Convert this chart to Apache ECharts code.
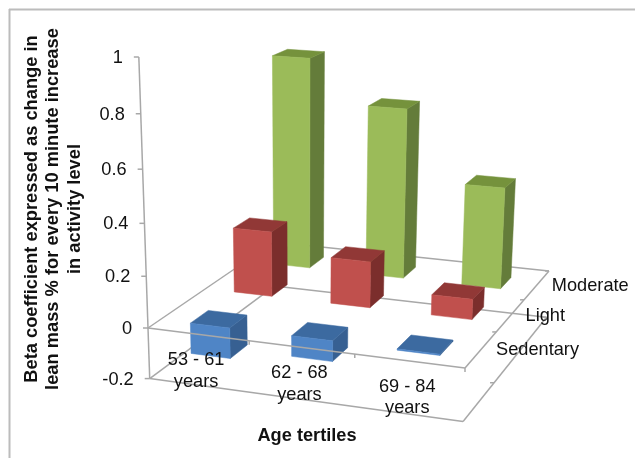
<!DOCTYPE html>
<html><head><meta charset="utf-8">
<style>html,body{margin:0;padding:0;background:#fff}#c{width:635px;height:458px}</style>
<script src="https://cdn.jsdelivr.net/npm/echarts@6/dist/echarts.min.js"></script>
</head><body><div id="c"></div>
<script>
// ---- data ----
const categories = ['53 - 61\nyears', '62 - 68\nyears', '69 - 84\nyears'];
const activityLevels = ['Sedentary', 'Light', 'Moderate'];
const sedentary = [-0.12, -0.08, -0.005];
const light = [0.26, 0.183, 0.08];
const moderate = [0.862, 0.69, 0.41];
const valueTicks = [-0.2, 0, 0.2, 0.4, 0.6, 0.8, 1];
const yAxisTitle = ['Beta coefficient expressed as change in', 'lean mass % for every 10 minute increase', 'in activity level'];
const xAxisTitle = 'Age tertiles';

// ---- camera: floor corners at value 0 and the vanishing point of the verticals ----
const CORNERS = [[148, 328], [465, 368], [549, 271], [274, 242]];
const VANISH = [302, 4880];
const TOP_LEFT_Y = 57;
const CAM = (function () {
  const [[x0, y0], [x1, y1], [x2, y2], [x3, y3]] = CORNERS;
  const dx1 = x1 - x2, dx2 = x3 - x2, sx = x0 - x1 + x2 - x3;
  const dy1 = y1 - y2, dy2 = y3 - y2, sy = y0 - y1 + y2 - y3;
  const den = dx1 * dy2 - dx2 * dy1;
  const g = (sx * dy2 - dx2 * sy) / den, h = (dx1 * sy - sx * dy1) / den;
  return {
    a: x1 - x0 + g * x1, b: x3 - x0 + h * x3, c: x0,
    d: y1 - y0 + g * y1, e: y3 - y0 + h * y3, f: y0, g, h,
    s: (TOP_LEFT_Y - y0) / (VANISH[1] - TOP_LEFT_Y)
  };
})();
function project(x, v, z) {
  const c = CAM, w = c.g * x + c.h * z + 1 + c.s * v;
  return [
    (c.a * x + c.b * z + c.c + c.s * VANISH[0] * v) / w,
    (c.d * x + c.e * z + c.f + c.s * VANISH[1] * v) / w
  ];
}

const BAR_HALF = 0.197;   // half of a bar's footprint, as a share of one cell
const DEPTH_SHIFT = 0.015;
const AXIS_MIN = -0.2, AXIS_MAX = 1;
const FONT = '"Liberation Sans", Arial, sans-serif';
const GRID_LINE = '#a8a8a8';

// Read a category position and a value through the chart's own hidden axes.
function scaled(api, cat, val) {
  const p = api.coord([cat, val]);
  const size = api.getWidth(), high = api.getHeight();
  return { x: p[0] / size, v: AXIS_MIN + (1 - p[1] / high) * (AXIS_MAX - AXIS_MIN) };
}
function vOf(api, val) { return scaled(api, 0, val).v; }

function line(a, b, color, width) {
  return { type: 'line', shape: { x1: a[0], y1: a[1], x2: b[0], y2: b[1] },
    style: { stroke: color || GRID_LINE, lineWidth: width || 1.5 }, silent: true };
}
function poly(points, fill) {
  return { type: 'polygon', shape: { points }, style: { fill, stroke: fill, lineWidth: 0.5 }, silent: true };
}

function barSeries(name, depthIndex, values, colors) {
  return {
    name, type: 'custom', coordinateSystem: 'cartesian2d', clip: false,
    data: values.map((v, i) => [i, v]),
    renderItem(params, api) {
      const p = scaled(api, api.value(0), api.value(1));
      const base = vOf(api, 0);
      const half = BAR_HALF / categories.length;
      const x0 = p.x - half, x1 = p.x + half;
      const zc = (depthIndex + 0.5) / activityLevels.length - DEPTH_SHIFT;
      const z0 = zc - half, z1 = zc + half;
      const hi = Math.max(p.v, base), lo = Math.min(p.v, base);
      return { type: 'group', children: [
        poly([project(x1, lo, z0), project(x1, lo, z1), project(x1, hi, z1), project(x1, hi, z0)], colors.side),
        poly([project(x0, hi, z0), project(x1, hi, z0), project(x1, hi, z1), project(x0, hi, z1)], colors.top),
        poly([project(x0, lo, z0), project(x1, lo, z0), project(x1, hi, z0), project(x0, hi, z0)], colors.front)
      ] };
    }
  };
}

function frameSeries() {
  return {
    type: 'custom', coordinateSystem: 'cartesian2d', clip: false, data: [[0, 0]],
    renderItem(params, api) {
      const zero = vOf(api, 0), low = vOf(api, valueTicks[0]), top = vOf(api, valueTicks[valueTicks.length - 1]);
      const out = [];
      [low, zero].forEach(v => {
        out.push(line(project(0, v, 0), project(0, v, 1)));
        out.push(line(project(0, v, 1), project(1, v, 1)));
        out.push(line(project(1, v, 0), project(1, v, 1)));
      });
      out.push(line(project(0, low, 0), project(1, low, 0)));
      out.push(line(project(0, low, 0), project(0, top, 0)));
      valueTicks.forEach(t => {
        const q = project(0, vOf(api, t), 0);
        out.push(line([q[0] - 5, q[1]], q));
      });
      return { type: 'group', children: out };
    }
  };
}

function frontEdgeSeries() {
  return {
    type: 'custom', coordinateSystem: 'cartesian2d', clip: false, data: [[0, 0]],
    renderItem(params, api) {
      const zero = vOf(api, 0), low = vOf(api, valueTicks[0]);
      const out = [line(project(0, zero, 0), project(1, zero, 0))];
      [1, 2, 3].forEach(k => {
        const f = k / categories.length;
        const q = project(f, zero, 0);
        out.push(line(q, [q[0], q[1] + 4]));
        [zero, low].forEach(v => {
          const r = project(1, v, f);
          out.push(line([r[0] - 4, r[1]], r));
        });
      });
      return { type: 'group', children: out };
    }
  };
}

function textEl(x, y, text, align, opts) {
  return Object.assign({ type: 'text', x, y, silent: true,
    style: Object.assign({ text, fill: '#111', font: '18.2px ' + FONT, textAlign: align, textVerticalAlign: 'middle', lineHeight: 21.5 }, opts || {}) });
}

function labelSeries() {
  return {
    type: 'custom', coordinateSystem: 'cartesian2d', clip: false, data: [[0, 0]],
    renderItem(params, api) {
      const zero = vOf(api, 0);
      const out = [];
      valueTicks.forEach(t => {
        const q = project(0, vOf(api, t), 0);
        out.push(textEl(q[0] - 16, q[1] + 1, String(t), 'right'));
      });
      categories.forEach((c, i) => {
        const s = scaled(api, i, 0);
        const q = project(s.x, zero, 0);
        out.push(textEl(q[0] - 2, q[1] + 36.5, c, 'center'));
      });
      activityLevels.forEach((name, k) => {
        const q = project(1, zero, (k + 0.5) / activityLevels.length);
        out.push(textEl(q[0] + 15, q[1] + 1, name, 'left'));
      });
      return { type: 'group', children: out };
    }
  };
}

const chart = echarts.init(document.getElementById('c'), null, { renderer: 'canvas' });
chart.setOption({
  animation: false,
  backgroundColor: '#ffffff',
  grid: { left: 0, right: 0, top: 0, bottom: 0, containLabel: false },
  xAxis: { type: 'category', data: categories, show: false },
  yAxis: { type: 'value', min: AXIS_MIN, max: AXIS_MAX, interval: 0.2, show: false },
  graphic: { elements: [
    { type: 'line', shape: { x1: 9.5, y1: 9, x2: 9.5, y2: 458 }, style: { stroke: '#bcbcbc', lineWidth: 2 }, silent: true },
    { type: 'line', shape: { x1: 9, y1: 9.5, x2: 635, y2: 9.5 }, style: { stroke: '#bcbcbc', lineWidth: 2 }, silent: true },
    ...yAxisTitle.map((t, i) => ({
      type: 'text', x: [32, 52.5, 75][i], y: 209, rotation: Math.PI / 2, silent: true,
      style: { text: t, fill: '#111', font: 'bold 18.3px ' + FONT, textAlign: 'center', textVerticalAlign: 'middle' }
    })),
    { type: 'text', x: 307, y: 436, silent: true,
      style: { text: xAxisTitle, fill: '#111', font: 'bold 18.2px ' + FONT, textAlign: 'center', textVerticalAlign: 'middle' } }
  ] },
  series: [
    frameSeries(),
    barSeries(activityLevels[2], 2, moderate, { front: '#9BBB59', top: '#75923C', side: '#647C3A' }),
    barSeries(activityLevels[1], 1, light, { front: '#C0504D', top: '#913836', side: '#7B2E2C' }),
    barSeries(activityLevels[0], 0, sedentary, { front: '#4F85C6', top: '#3C6AA0', side: '#376092' }),
    frontEdgeSeries(),
    labelSeries()
  ]
});
</script></body></html>
